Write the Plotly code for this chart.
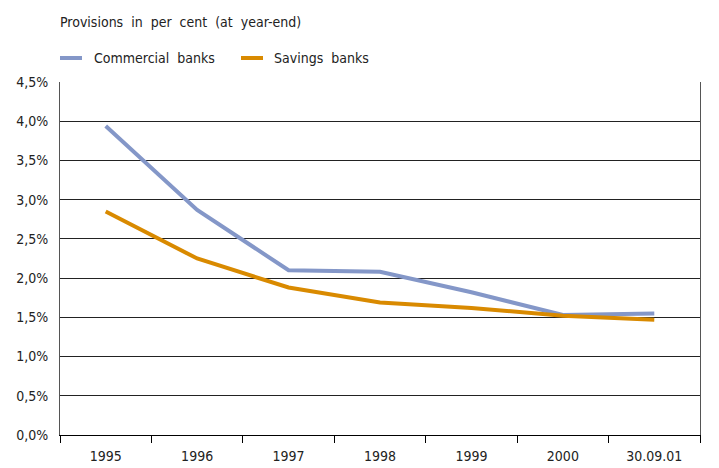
import plotly.graph_objects as go

periods = ["1995", "1996", "1997", "1998", "1999", "2000", "30.09.01"]
commercial_banks = [3.94, 2.87, 2.10, 2.08, 1.82, 1.53, 1.55]
savings_banks = [2.85, 2.25, 1.88, 1.69, 1.62, 1.52, 1.47]
y_tick_values = [0.0, 0.5, 1.0, 1.5, 2.0, 2.5, 3.0, 3.5, 4.0, 4.5]
y_tick_labels = ["0,0%", "0,5%", "1,0%", "1,5%", "2,0%", "2,5%", "3,0%", "3,5%", "4,0%", "4,5%"]

FONT = "DejaVu Sans Condensed"
COLORS = {"Commercial banks": "#8497C8", "Savings banks": "#D98A00"}
TITLE = "Provisions in per cent (at year-end)"

# plot area in pixels
W, H = 719, 468
L, R, T, B = 60, 19, 82, 33
PW, PH = W - L - R, H - T - B

def px_x(x):
    return (x - L) / PW

def px_y(y):
    return (H - B - y) / PH

fig = go.Figure()
for name, values in [("Commercial banks", commercial_banks), ("Savings banks", savings_banks)]:
    fig.add_trace(go.Scatter(x=periods, y=values, mode="lines", name=name,
                             line=dict(color=COLORS[name], width=4)))

# wider word spacing in the heading
annotations = [dict(text=TITLE.replace(" ", " \u00a0"), xref="paper", yref="paper",
                    x=px_x(58), y=px_y(22), xanchor="left", yanchor="middle", showarrow=False)]
shapes = []
# legend entries drawn as short line samples with labels
for name, (lx, tx) in zip(COLORS, [(60, 92), (241, 272)]):
    shapes.append(dict(type="line", xref="paper", yref="paper",
                       x0=px_x(lx), x1=px_x(lx + 22), y0=px_y(58), y1=px_y(58),
                       line=dict(color=COLORS[name], width=4)))
    annotations.append(dict(text=name.replace(" ", " \u00a0"), xref="paper", yref="paper",
                            x=px_x(tx), y=px_y(58),
                            xanchor="left", yanchor="middle", showarrow=False))

fig.update_layout(
    width=W, height=H,
    margin=dict(l=L, r=R, t=T, b=B),
    paper_bgcolor="white", plot_bgcolor="white",
    font=dict(family=FONT, size=14, color="#222"),
    showlegend=False,
    annotations=annotations,
    shapes=shapes,
)

fig.update_xaxes(
    type="category", range=[-0.5, 6.5], automargin=False,
    showline=True, linecolor="#000", linewidth=1,
    ticks="outside", tickson="boundaries", ticklen=7, tickcolor="#000",
    ticklabelstandoff=8,
    showgrid=False, zeroline=False, fixedrange=True,
)
fig.update_yaxes(
    range=[0, 4.5], tickvals=y_tick_values, ticktext=y_tick_labels, automargin=False,
    showline=True, linecolor="#555", linewidth=1, mirror=True,
    showgrid=True, gridcolor="#222", gridwidth=1,
    ticks="", ticklabelstandoff=8, zeroline=False, fixedrange=True,
)

fig.write_html("out.html")
